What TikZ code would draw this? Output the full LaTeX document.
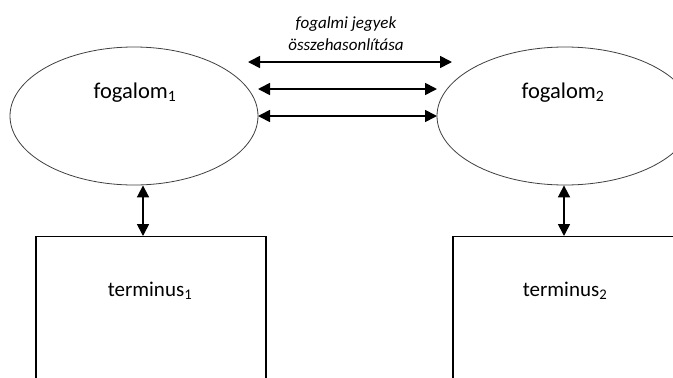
\documentclass[tikz,border=0pt]{standalone}
\usepackage{fontspec}
\setmainfont{Carlito}
\usetikzlibrary{shapes.geometric,arrows.meta}
\begin{document}
\begin{tikzpicture}[x=1pt,y=-1pt,
  concept/.style={ellipse,draw=black!75,line width=0.8pt,minimum width=248pt,minimum height=138pt,inner sep=0pt},
  termbox/.style={rectangle,draw,line width=1.3pt,minimum width=230pt,minimum height=160pt,anchor=north,inner sep=0pt},
  lbl/.style={font=\fontsize{22.5}{26}\selectfont,inner sep=0pt},
  tlbl/.style={font=\fontsize{21}{25}\selectfont,inner sep=0pt},
  arr/.style={line width=1.7pt,{Triangle[length=12pt,width=12pt]}-{Triangle[length=12pt,width=12pt]}}]
\useasboundingbox (0,0) rectangle (673,378);
\clip (0,0) rectangle (673,378);
\fill[white] (0,0) rectangle (673,378);
\node[concept] (e1) at (134,116) {};
\node[concept,minimum width=256pt] (e2) at (565,116) {};
\node[termbox] (t1) at (151,236) {};
\node[termbox,minimum width=228pt] (t2) at (567,236) {};
\node[lbl] (f1) at (135,93) {fogalom\textsubscript{1}};
\node[lbl] (f2) at (563,93) {fogalom\textsubscript{2}};
\node[tlbl] (n1) at (150,291) {terminus\textsubscript{1}};
\node[tlbl] (n2) at (565,291) {terminus\textsubscript{2}};
\node[font=\fontsize{17}{21}\selectfont\itshape,align=center,inner sep=0pt] (cmp) at (346,34) {fogalmi jegyek\\[1pt]összehasonlítása};
\coordinate (a1) at (143,0);
\coordinate (a2) at (564,0);
\coordinate (h1l) at (248,62);
\coordinate (h1r) at (452,62);
\coordinate (m1a) at (258,89);
\coordinate (m1b) at (437,89);
\coordinate (m2a) at (258,116);
\coordinate (m2b) at (437,116);
\draw[arr] (h1l) -- (h1r);
\draw[arr] (m1a) -- (m1b);
\draw[arr] (m2a) -- (m2b);
\draw[arr] (e1.south -| a1) -- (t1.north -| a1);
\draw[arr] (e2.south -| a2) -- (t2.north -| a2);
\end{tikzpicture}
\end{document}
